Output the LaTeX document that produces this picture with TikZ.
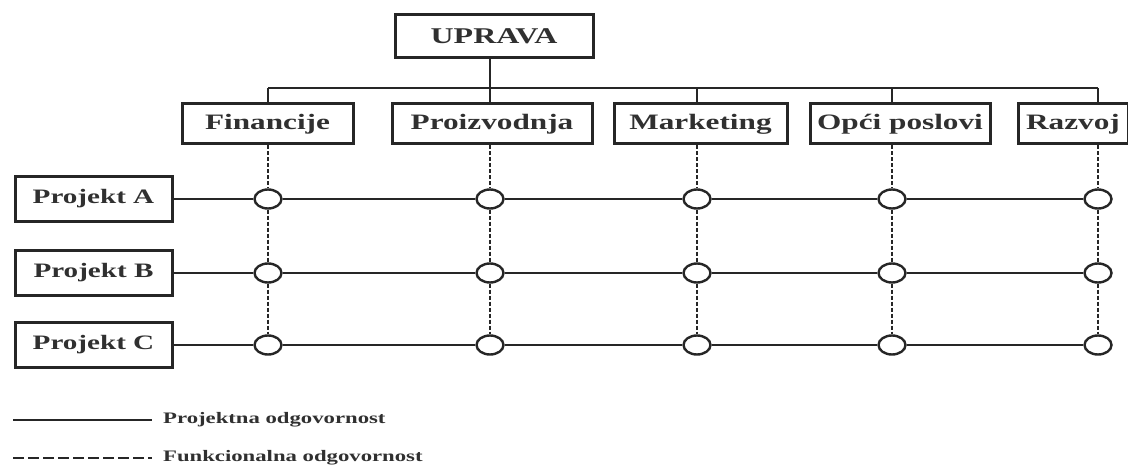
\documentclass[tikz,border=0pt]{standalone}
\usepackage{fontspec}
\setmainfont{Liberation Serif}
\usepackage{graphicx}
\usetikzlibrary{shapes.geometric}
\definecolor{linec}{HTML}{262626}
\definecolor{textc}{HTML}{303030}
\newcommand{\wide}[1]{\scalebox{1.42}[1]{#1}}
\begin{document}
\begin{tikzpicture}[x=1pt,y=-1pt,
  box/.style={draw=linec, line width=3pt, fill=white, inner sep=0pt, text=textc,
    font=\bfseries\fontsize{22}{22}\selectfont, minimum height=40pt},
  projbox/.style={box, font=\bfseries\fontsize{20.5}{20.5}\selectfont, minimum width=157pt, minimum height=45pt},
  joint/.style={ellipse, draw=linec, line width=2.4pt, fill=white, minimum width=27pt, minimum height=19pt, inner sep=0pt},
  projline/.style={draw=linec, line width=2.4pt},
  funcline/.style={draw=linec, line width=2.4pt, dash pattern=on 4pt off 2pt},
  legendline/.style={draw=linec, line width=2.4pt, dash pattern=on 11pt off 4pt},
  legendtext/.style={anchor=west, inner sep=0pt, text=textc, font=\bfseries\fontsize{16}{16}\selectfont}
]
\useasboundingbox (0,0) rectangle (1128,468);

% top
\node[box, font=\bfseries\fontsize{22.5}{22.5}\selectfont, minimum width=198pt, minimum height=43pt] (upr) at (494,36.5) {\wide{UPRAVA}};

% departments
\node[box, minimum width=171pt] (fin) at (267.5,124) {\wide{Financije}};
\node[box, minimum width=200pt] (pro) at (492,124) {\wide{Proizvodnja}};
\node[box, minimum width=173pt] (mar) at (700.5,124) {\wide{Marketing}};
\node[box, minimum width=180pt] (opc) at (900,124) {\wide{Opći poslovi}};
\node[box, minimum width=110pt] (raz) at (1073,124) {\wide{Razvoj}};

% bus
\coordinate (b1) at (268,88);
\coordinate (b2) at (490,88);
\coordinate (b3) at (697,88);
\coordinate (b4) at (892,88);
\coordinate (b5) at (1098,88);
\draw[projline] (b1) -- (b5);
\draw[projline] (upr.south -| b2) -- (b2);
\draw[projline] (b1) -- (b1 |- fin.north);
\draw[projline] (b2) -- (b2 |- pro.north);
\draw[projline] (b3) -- (b3 |- mar.north);
\draw[projline] (b4) -- (b4 |- opc.north);
\draw[projline] (b5) -- (b5 |- raz.north);

% projects
\node[projbox] (pA) at (93.5,199) {\wide{Projekt A}};
\node[projbox] (pB) at (93.5,273) {\wide{Projekt B}};
\node[projbox] (pC) at (93.5,345) {\wide{Projekt C}};

% joints
\foreach \r/\y in {A/199,B/273,C/345}{
  \node[joint] (c\r1) at (268,\y) {};
  \node[joint] (c\r2) at (490,\y) {};
  \node[joint] (c\r3) at (697,\y) {};
  \node[joint] (c\r4) at (892,\y) {};
  \node[joint] (c\r5) at (1098,\y) {};
}

% project lines
\foreach \r in {A,B,C}{
  \draw[projline] (p\r) -- (c\r1) -- (c\r2) -- (c\r3) -- (c\r4) -- (c\r5);
}

% functional lines
\draw[funcline] (cA1 |- fin.south) -- (cA1) (cA1) -- (cB1) (cB1) -- (cC1);
\draw[funcline] (cA2 |- pro.south) -- (cA2) (cA2) -- (cB2) (cB2) -- (cC2);
\draw[funcline] (cA3 |- mar.south) -- (cA3) (cA3) -- (cB3) (cB3) -- (cC3);
\draw[funcline] (cA4 |- opc.south) -- (cA4) (cA4) -- (cB4) (cB4) -- (cC4);
\draw[funcline] (cA5 |- raz.south) -- (cA5) (cA5) -- (cB5) (cB5) -- (cC5);

% legend
\coordinate (l1s) at (13,420);
\coordinate (l1e) at (152,420);
\coordinate (l2s) at (13,458);
\coordinate (l2e) at (152,458);
\draw[projline] (l1s) -- (l1e);
\draw[legendline] (l2s) -- (l2e);
\node[legendtext] (t1) at (163,420) {\wide{Projektna odgovornost}};
\node[legendtext] (t2) at (163,458) {\wide{Funkcionalna odgovornost}};
\end{tikzpicture}
\end{document}
